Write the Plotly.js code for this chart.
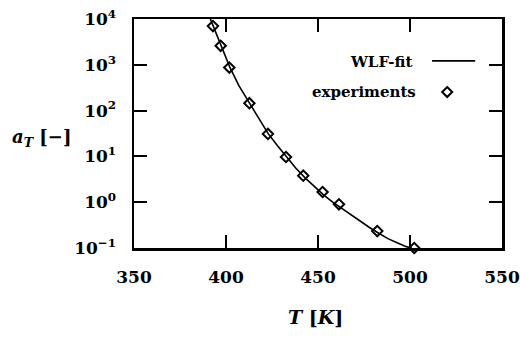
<!DOCTYPE html>
<html><head><meta charset="utf-8">
<script src="https://cdn.plot.ly/plotly-3.0.1.min.js"></script>
<style>body{margin:0;background:#fff}#c{width:520px;height:338px}</style>
</head><body><div id="c"></div>
<script>
// experimental shift factors
const expT = [392.9, 397.1, 401.8, 412.7, 422.8, 432.6, 442.0, 452.5, 461.4, 482.2, 502.3];
const expA = [7000, 2600, 870, 145, 31, 9.7, 3.8, 1.67, 0.9, 0.234, 0.1];
// WLF fit curve
const fitT = [391.5, 393, 397, 402, 407, 413, 418, 423, 428, 433, 438, 443, 448, 453, 458, 463, 468, 473, 478, 483, 488, 493, 498, 501];
const fitA = [10000, 7000, 2700, 900, 350, 140, 65, 31, 17, 9.5, 5.5, 3.4, 2.2, 1.45, 1.0, 0.72, 0.52, 0.38, 0.28, 0.21, 0.16, 0.13, 0.107, 0.1];
const xTicks = [350, 400, 450, 500, 550];
const yTicks = [0.1, 1, 10, 100, 1000, 10000];
const yTickText = ['10<sup>−1</sup>', '10<sup>0</sup>', '10<sup>1</sup>', '10<sup>2</sup>', '10<sup>3</sup>', '10<sup>4</sup>'];

const F = 'DejaVu Serif';
const traces = [
  {x: fitT, y: fitA, mode: 'lines', line: {color: '#000', width: 1.6}, showlegend: false, cliponaxis: false},
  {x: expT, y: expA, mode: 'markers', marker: {symbol: 'diamond-open', size: 8, color: '#000', line: {width: 2, color: '#000'}}, showlegend: false, cliponaxis: false}
];
const axisCommon = {showgrid: false, zeroline: false, showline: true, linecolor: '#000', linewidth: 2.5, mirror: 'allticks', ticks: 'inside', ticklen: 13, tickwidth: 2, tickcolor: '#000', tickfont: {family: F, size: 17, color: '#000', weight: 'bold'}};
const layout = {
  width: 520, height: 338,
  margin: {l: 134, r: 18, t: 19, b: 90},
  paper_bgcolor: '#fff', plot_bgcolor: '#fff',
  xaxis: Object.assign({}, axisCommon, {range: [350, 550], tickvals: xTicks, ticktext: xTicks.map(String), ticklabelstandoff: 12}),
  yaxis: Object.assign({}, axisCommon, {type: 'log', range: [-1, 4], tickvals: yTicks, ticktext: yTickText, ticklabelstandoff: 12}),
  annotations: [
    {xref: 'paper', yref: 'paper', x: 0.7636, y: 0.812, xanchor: 'right', yanchor: 'middle', text: 'WLF-fit', showarrow: false, font: {family: F, size: 15, color: '#000', weight: 'bold'}},
    {xref: 'paper', yref: 'paper', x: 0.772, y: 0.681, xanchor: 'right', yanchor: 'middle', text: 'experiments', showarrow: false, font: {family: F, size: 15, color: '#000', weight: 'bold'}},
    {xref: 'paper', yref: 'paper', x: 0.492, y: -0.3, xanchor: 'center', yanchor: 'middle', text: '<i>T</i> [<i>K</i>]', showarrow: false, font: {family: F, size: 19, color: '#000', weight: 'bold'}},
    {xref: 'paper', yref: 'paper', x: -0.2527, y: 0.482, xanchor: 'center', yanchor: 'middle', text: '<i>a</i><sub><i>T</i></sub> [−]', showarrow: false, font: {family: F, size: 18, color: '#000', weight: 'bold'}}
  ],
  shapes: [
    {type: 'line', xref: 'paper', yref: 'paper', x0: 0.81, x1: 0.927, y0: 0.817, y1: 0.817, line: {color: '#000', width: 1.6}},
    {type: 'path', xref: 'paper', yref: 'paper', xsizemode: 'pixel', ysizemode: 'pixel', xanchor: 0.851, yanchor: 0.681, path: 'M0,5 L5,0 L0,-5 L-5,0 Z', line: {color: '#000', width: 2}}
  ]
};
Plotly.newPlot('c', traces, layout, {staticPlot: true});
</script></body></html>
